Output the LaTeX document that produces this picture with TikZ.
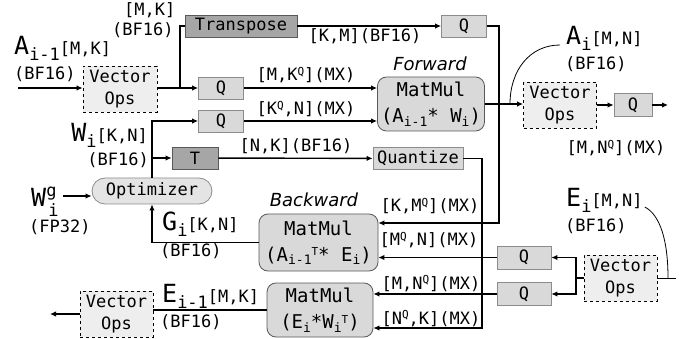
\documentclass[tikz,border=0pt]{standalone}
\usepackage{fontspec}
\setmainfont{DejaVu Sans Mono}
\newfontfamily\capfont{DejaVu Sans}
\usetikzlibrary{arrows.meta}

\definecolor{vecfill}{HTML}{EEEEEE}
\definecolor{qfill}{HTML}{D9D9D9}
\definecolor{tfill}{HTML}{A6A6A6}
\definecolor{optfill}{HTML}{E4E4E4}
\definecolor{edgegray}{HTML}{8C8C8C}

\newcommand{\bigsym}[1]{{\fontsize{25}{25}\selectfont #1}}
\newcommand{\tens}[3]{\bigsym{#1}\raisebox{-6pt}{#2}#3}
\newcommand{\subx}[1]{\raisebox{-3.5pt}{\fontsize{13}{13}\selectfont #1}}
\newcommand{\supx}[1]{\raisebox{5.5pt}{\fontsize{11}{11}\selectfont #1}}

\begin{document}
\begin{tikzpicture}[x=1pt,y=-1pt,
  every node/.style={font=\fontsize{17}{22}\selectfont, inner sep=0pt},
  wire/.style={line width=1.4pt},
  arr/.style={wire, -{Latex[length=6pt,width=5.5pt]}},
  pin/.style={line width=0.8pt},
  vecop/.style={draw, dashed, line width=0.7pt, fill=vecfill, minimum width=74pt, minimum height=46pt, align=center},
  qbox/.style={draw=edgegray, line width=0.8pt, fill=qfill, minimum width=45pt, minimum height=22pt},
  tbox/.style={draw=black!65, line width=0.8pt, fill=tfill, minimum height=22pt},
  mmbox/.style={draw=black!65, line width=0.8pt, fill=qfill, rounded corners=9pt, align=center, font=\fontsize{19}{26}\selectfont},
  tag/.style={font=\capfont\itshape\fontsize{18}{18}\selectfont},
]
  \useasboundingbox (0,0) rectangle (688,339);

  % Forward pass
  \node[vecop] (vecIn) at (120,89.5) {Vector\\Ops};
  \node[tbox, minimum width=112pt] (trans) at (241,26) {Transpose};
  \node[qbox] (qA) at (221,88) {Q};
  \node[qbox] (qW) at (221,121) {Q};
  \node[qbox] (qT) at (464,26) {Q};
  \node[mmbox, minimum width=107pt, minimum height=54pt] (mmF) at (431,104) {MatMul\\(A\subx{i-1}* W\subx{i})};
  \node[tag, anchor=base] (fwdTag) at (430,71) {Forward};
  \node[vecop, minimum width=73pt] (vecOut) at (560,105) {Vector\\Ops};
  \node[qbox, minimum width=38pt, minimum height=23pt] (qOut) at (633,105) {Q};

  % Weight update
  \node[draw=edgegray, line width=0.8pt, fill=optfill, rounded corners=13pt, minimum width=120pt, minimum height=26pt] (opt) at (152,191) {Optimizer};
  \node[tbox, minimum width=46pt] (tW) at (195,158) {T};
  \node[qbox, minimum width=90pt] (quant) at (418,158.5) {Quantize};

  % Backward pass
  \node[mmbox, minimum width=119pt, minimum height=57pt] (mmB) at (318.5,242.5) {MatMul\\(A\subx{i-1}\supx{T}* E\subx{i})};
  \node[tag, anchor=base] (bwdTag) at (314,207) {Backward};
  \node[mmbox, minimum width=106pt, minimum height=54pt] (mmD) at (320,310) {MatMul\\(E\subx{i}*W\subx{i}\supx{T})};
  \node[qbox, minimum width=54pt, minimum height=23pt] (qE1) at (524,257.5) {Q};
  \node[qbox, minimum width=54pt, minimum height=23pt] (qE2) at (524,294) {Q};
  \node[vecop, minimum width=73pt] (vecE) at (620.5,278) {Vector\\Ops};
  \node[vecop, minimum width=73pt] (vecD) at (116.5,314) {Vector\\Ops};

  % Tensor labels
  \node[anchor=base west] (aInName) at (14,55) {\tens{A}{i-1}{[M,K]}};
  \node[anchor=base west] (aInFmt) at (14,80) {(BF16)};
  \node[anchor=base west] (brName) at (124,16) {[M,K]};
  \node[anchor=base west] (brFmt) at (112,36) {(BF16)};
  \node[anchor=base west] (aOutName) at (566,45) {\tens{A}{i}{[M,N]}};
  \node[anchor=base west] (aOutFmt) at (565,70) {(BF16)};
  \node[anchor=base east] (wName) at (148,142) {\tens{W}{i}{[K,N]}};
  \node[anchor=base east] (wFmt) at (149,166) {(BF16)};
  \node[anchor=base west] (wgName) at (31,207) {\bigsym{W}\rlap{\raisebox{10pt}{g}}\hspace{2pt}\raisebox{-10pt}{i}};
  \node[anchor=base west] (wgFmt) at (29,233) {(FP32)};
  \node[anchor=base west] (gName) at (162,230) {\tens{G}{i}{[K,N]}};
  \node[anchor=base west] (gFmt) at (160,256) {(BF16)};
  \node[anchor=base west] (eName) at (566,207) {\tens{E}{i}{[M,N]}};
  \node[anchor=base west] (eFmt) at (565,232) {(BF16)};
  \node[anchor=base west] (edName) at (162,302) {\tens{E}{i-1}{[M,K]}};
  \node[anchor=base west] (edFmt) at (160,327) {(BF16)};

  % Edge labels
  \node[anchor=base] (tpLbl) at (365,42) {[K,M](BF16)};
  \node[anchor=base] (qaLbl) at (306,81) {[M,K\supx{Q}](MX)};
  \node[anchor=base] (qwLbl) at (306,115) {[K\supx{Q},N](MX)};
  \node[anchor=base] (tnLbl) at (296,152) {[N,K](BF16)};
  \node[anchor=base] (kmLbl) at (430,212) {[K,M\supx{Q}](MX)};
  \node[anchor=base] (mnLbl) at (429,246) {[M\supx{Q},N](MX)};
  \node[anchor=base] (nmLbl) at (431,289) {[M,N\supx{Q}](MX)};
  \node[anchor=base] (nkLbl) at (431,324) {[N\supx{Q},K](MX)};
  \node[anchor=base] (outLbl) at (616,154) {[M,N\supx{Q}](MX)};

  % Forward connections
  \coordinate (aIn) at (18,88);
  \draw[arr] (aIn) -- (aIn -| vecIn.west);
  \draw[arr] (vecIn.east |- qA) -- (qA.west);
  \coordinate (brT) at (180,88);
  \draw[wire] (brT) |- (trans.west);
  \draw[arr] (trans) -- (qT);
  \draw[arr] (qA) -- (qA -| mmF.west);
  \draw[arr] (qW) -- (qW -| mmF.west);
  \draw[arr] (mmF) -- (mmF -| vecOut.west);
  \coordinate (aPin) at (510,104);
  \draw[pin] (aPin) .. controls (510,70) and (530,45) .. ([xshift=-6pt]aOutName.base west);
  \draw[arr] (vecOut) -- (qOut);
  \coordinate (qOutEnd) at (668,105);
  \draw[arr] (qOut) -- (qOutEnd);

  % Weight connections
  \coordinate (wgEnd) at (63,196);
  \draw[arr] (wgEnd) -- (wgEnd -| opt.west);
  \draw[arr] (opt.north) |- (qW.west);
  \draw[arr] (opt.north |- tW) -- (tW.west);
  \draw[arr] (tW) -- (quant);
  \coordinate (qzDown) at (482,328);
  \draw[arr] (quant.east) -| (qzDown) -- (qzDown -| mmD.east);
  \coordinate (tpDown) at (499,223);
  \draw[arr] (qT.east) -| (tpDown) -- (tpDown -| mmB.east);
  \draw[arr] (mmB.west) -| (opt.south);

  % Backward connections
  \coordinate (eBr) at (576,278);
  \draw[wire] (vecE.west) -- (eBr);
  \draw[arr] (eBr) |- (qE1.east);
  \draw[arr] (eBr) |- (qE2.east);
  \draw[arr] (qE1) -- (qE1 -| mmB.east);
  \draw[arr] (qE2) -- (qE2 -| mmD.east);
  \coordinate (eIn) at (676,278);
  \draw[pin] (vecE.east) -- (eIn);
  \coordinate (ePin) at (668,278);
  \draw[pin] ([xshift=2pt]eName.base east) .. controls (660,215) and (668,240) .. (ePin);
  \draw[wire] (mmD) -- (mmD -| vecD.east);
  \coordinate (dOut) at (50,314);
  \draw[arr] (vecD.west) -- (dOut);
\end{tikzpicture}
\end{document}
